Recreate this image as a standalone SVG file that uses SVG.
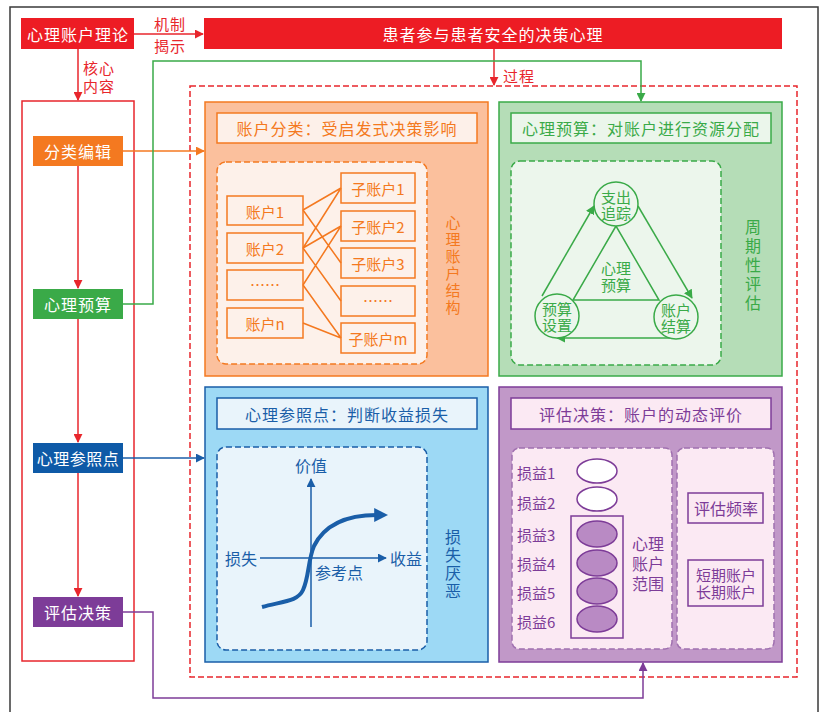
<svg xmlns="http://www.w3.org/2000/svg" width="822" height="712" viewBox="0 0 822 712">
<defs>
<style>
text{font-family:"Noto Sans CJK SC","Noto Sans",sans-serif;dominant-baseline:central}
.wt{fill:#fff;font-size:16px;letter-spacing:1px;text-anchor:middle}
.rl{fill:#e8262c;font-size:15px;text-anchor:middle;letter-spacing:1px}
.ttl{font-size:16px;letter-spacing:1px;text-anchor:middle}
.vt{writing-mode:vertical-rl;text-anchor:middle}
.dash{stroke-dasharray:6 3;stroke-width:1.5}
.or{fill:#f47920}.gr{fill:#3aaa48}.bl{fill:#1a5ea8}.pu{fill:#7d3c98}
</style>
<marker id="ar" viewBox="0 0 10 10" refX="9" refY="5" markerWidth="9" markerHeight="9" markerUnits="userSpaceOnUse" orient="auto"><path d="M0,0L10,5L0,10z" fill="#e8262c"/></marker>
<marker id="ao" viewBox="0 0 10 10" refX="9" refY="5" markerWidth="9" markerHeight="9" markerUnits="userSpaceOnUse" orient="auto"><path d="M0,0L10,5L0,10z" fill="#f47920"/></marker>
<marker id="ag" viewBox="0 0 10 10" refX="9" refY="5" markerWidth="9" markerHeight="9" markerUnits="userSpaceOnUse" orient="auto"><path d="M0,0L10,5L0,10z" fill="#3aaa48"/></marker>
<marker id="ab" viewBox="0 0 10 10" refX="9" refY="5" markerWidth="9" markerHeight="9" markerUnits="userSpaceOnUse" orient="auto"><path d="M0,0L10,5L0,10z" fill="#1a5ea8"/></marker>
<marker id="ab2" viewBox="0 0 10 10" refX="2" refY="5" markerWidth="14" markerHeight="14" markerUnits="userSpaceOnUse" orient="auto"><path d="M0,0L10,5L0,10z" fill="#1a5ea8"/></marker>
<marker id="ap" viewBox="0 0 10 10" refX="9" refY="5" markerWidth="9" markerHeight="9" markerUnits="userSpaceOnUse" orient="auto"><path d="M0,0L10,5L0,10z" fill="#7d3c98"/></marker>
</defs>
<rect width="822" height="712" fill="#fff"/>
<rect x="10" y="7" width="808" height="720" fill="none" stroke="#3a3a3a" stroke-width="1.5"/>

<!-- frames -->
<rect x="22" y="101" width="112" height="560" fill="none" stroke="#e8262c" stroke-width="1.5"/>
<rect x="190" y="86" width="607" height="591" fill="none" stroke="#e8262c" class="dash"/>

<g id="connectors" fill="none" stroke-width="1.5">
<path d="M134,34H203" stroke="#e8262c" marker-end="url(#ar)"/>
<path d="M78,49V100" stroke="#e8262c" marker-end="url(#ar)"/>
<path d="M78,166V288" stroke="#e8262c" marker-end="url(#ar)"/>
<path d="M78,319V442" stroke="#e8262c" marker-end="url(#ar)"/>
<path d="M78,473V596" stroke="#e8262c" marker-end="url(#ar)"/>
<path d="M494,49V85" stroke="#e8262c" marker-end="url(#ar)"/>
<path d="M123,151H204" stroke="#f47920" marker-end="url(#ao)"/>
<path d="M123,304H153V61H641V101" stroke="#3aaa48" marker-end="url(#ag)"/>
<path d="M123,458H204" stroke="#1a5ea8" marker-end="url(#ab)"/>
<path d="M123,612H153V698H643V663" stroke="#7d3c98" marker-end="url(#ap)"/>
</g>
<text class="rl"><tspan x="170" y="23">机制</tspan><tspan x="170" y="45">揭示</tspan></text>
<text class="rl"><tspan x="99" y="67">核心</tspan><tspan x="99" y="85">内容</tspan></text>
<text class="rl" x="519" y="75">过程</text>

<g id="theory"><rect x="21" y="18" width="113" height="31" fill="#ed1c24"/><text class="wt" x="78" y="34">心理账户理论</text></g>
<g id="topic"><rect x="204" y="18" width="578" height="31" fill="#ed1c24"/><text class="wt" x="493" y="34">患者参与患者安全的决策心理</text></g>

<g id="n-fenlei"><rect x="33" y="136" width="90" height="30" fill="#f47920"/><text class="wt" x="78" y="151">分类编辑</text></g>
<g id="n-yusuan"><rect x="33" y="289" width="90" height="30" fill="#3aaa48"/><text class="wt" x="78" y="304">心理预算</text></g>
<g id="n-cankao"><rect x="33" y="443" width="90" height="30" fill="#0e5aa7"/><text class="wt" x="78" y="458" style="letter-spacing:0.5px">心理参照点</text></g>
<g id="n-pinggu"><rect x="33" y="597" width="90" height="30" fill="#7d3c98"/><text class="wt" x="78" y="612">评估决策</text></g>

<!-- orange panel -->
<g id="p-orange">
<rect x="205" y="102" width="283" height="274" fill="#fbc09d" stroke="#f47920" stroke-width="1.5"/>
<rect x="217" y="113" width="260" height="30" fill="#fdf0e9" stroke="#f47920" stroke-width="1.5"/>
<text class="ttl or" x="347" y="128">账户分类：受启发式决策影响</text>
<rect x="217" y="162" width="210" height="202" rx="9" fill="#fdf1ea" stroke="#f47920" class="dash"/>
<g fill="#fdf1ea" stroke="#f47920" stroke-width="1.5">
<rect x="227" y="196" width="76" height="29"/><rect x="227" y="233" width="76" height="30"/><rect x="227" y="270" width="76" height="30"/><rect x="227" y="308" width="76" height="30"/>
<rect x="341" y="173" width="74" height="30"/><rect x="341" y="211" width="74" height="30"/><rect x="341" y="248" width="74" height="30"/><rect x="341" y="286" width="74" height="30"/><rect x="341" y="323" width="74" height="30"/>
</g>
<g stroke="#f47920" stroke-width="1.5" fill="none">
<path d="M303,210L341,188M303,210L341,263M303,248L341,188M303,248L341,226M303,248L341,301M303,285L341,226M303,285L341,338M303,323L341,338"/>
</g>
<g class="or" font-size="15" text-anchor="middle">
<text x="265" y="211">账户1</text><text x="265" y="248">账户2</text><text x="265" y="284">……</text><text x="265" y="323">账户n</text>
<text x="378" y="188">子账户1</text><text x="378" y="226">子账户2</text><text x="378" y="263">子账户3</text><text x="378" y="300">……</text><text x="378" y="338">子账户m</text>
</g>
<text class="or vt" font-size="15" letter-spacing="2" x="453" y="266">心理账户结构</text>
</g>

<!-- green panel -->
<g id="p-green">
<rect x="499" y="102" width="283" height="274" fill="#b5ddb7" stroke="#3aaa48" stroke-width="1.5"/>
<rect x="511" y="113" width="260" height="30" fill="#ebf6eb" stroke="#3aaa48" stroke-width="1.5"/>
<text class="ttl gr" x="641" y="128">心理预算：对账户进行资源分配</text>
<rect x="511" y="161" width="210" height="204" rx="9" fill="#ecf6ec" stroke="#3aaa48" class="dash"/>
<g stroke="#3aaa48" stroke-width="1.5" fill="none">
<path d="M616,226L573,300H659Z"/>
<path d="M542,296L594,206" marker-end="url(#ag)"/>
<path d="M638,206L692,298" marker-end="url(#ag)"/>
<path d="M670,338H557" marker-end="url(#ag)"/>
<circle cx="616" cy="204" r="22" fill="#ecf6ec"/>
<circle cx="557" cy="316" r="22" fill="#ecf6ec"/>
<circle cx="676" cy="317" r="22" fill="#ecf6ec"/>
</g>
<g class="gr" font-size="15" text-anchor="middle">
<text><tspan x="616" y="196">支出</tspan><tspan x="616" y="212">追踪</tspan></text>
<text><tspan x="557" y="308">预算</tspan><tspan x="557" y="324">设置</tspan></text>
<text><tspan x="676" y="309">账户</tspan><tspan x="676" y="325">结算</tspan></text>
<text><tspan x="616" y="267">心理</tspan><tspan x="616" y="284">预算</tspan></text>
</g>
<text class="gr vt" font-size="16" letter-spacing="3" x="753" y="266">周期性评估</text>
</g>

<!-- blue panel -->
<g id="p-blue">
<rect x="205" y="387" width="283" height="275" fill="#9dd9f5" stroke="#1a5ea8" stroke-width="1.5"/>
<rect x="217" y="398" width="260" height="31" fill="#e9f4fb" stroke="#1a5ea8" stroke-width="1.5"/>
<text class="ttl bl" x="347" y="414">心理参照点：判断收益损失</text>
<rect x="217" y="447" width="210" height="203" rx="9" fill="#e9f4fb" stroke="#1a5ea8" class="dash"/>
<g stroke="#1a5ea8" stroke-width="1.5" fill="none">
<path d="M311,627V479" marker-end="url(#ab)"/>
<path d="M260,558H386" marker-end="url(#ab)"/>
<path d="M262,607C285,601 298,601 303,590C309,577 308,560 314,546C326,522 350,515 377,515" stroke-width="4" marker-end="url(#ab2)"/>
</g>
<g class="bl" font-size="16" text-anchor="middle">
<text x="311" y="465">价值</text><text x="241" y="558">损失</text><text x="406" y="558">收益</text><text x="339" y="572">参考点</text>
</g>
<text class="bl vt" font-size="16" letter-spacing="2" x="453" y="565">损失厌恶</text>
</g>

<!-- purple panel -->
<g id="p-purple">
<rect x="499" y="387" width="283" height="275" fill="#c198c8" stroke="#7d3c98" stroke-width="1.5"/>
<rect x="511" y="398" width="260" height="31" fill="#fbe9f3" stroke="#7d3c98" stroke-width="1.5"/>
<text class="ttl pu" x="641" y="414">评估决策：账户的动态评价</text>
<rect x="512" y="448" width="160" height="201" rx="7" fill="#fbe9f3" stroke="#a070b0" class="dash"/>
<rect x="677" y="448" width="97" height="201" rx="7" fill="#fbe9f3" stroke="#a070b0" class="dash"/>
<g stroke="#7d3c98" stroke-width="1.5">
<ellipse cx="597" cy="471" rx="20" ry="12" fill="#fff"/>
<ellipse cx="597" cy="499" rx="20" ry="12" fill="#fff"/>
<ellipse cx="597" cy="534" rx="20" ry="13" fill="#b98ac4"/>
<ellipse cx="597" cy="563" rx="20" ry="13" fill="#b98ac4"/>
<ellipse cx="597" cy="591" rx="20" ry="13" fill="#b98ac4"/>
<ellipse cx="597" cy="619" rx="20" ry="13" fill="#b98ac4"/>
<rect x="571" y="516" width="52" height="122" fill="none"/>
<rect x="688" y="493" width="75" height="30" fill="#fbe9f3"/>
<rect x="688" y="560" width="75" height="46" fill="#fbe9f3"/>
</g>
<g class="pu" font-size="15">
<text x="517" y="472">损益1</text><text x="517" y="502">损益2</text><text x="517" y="534">损益3</text><text x="517" y="563">损益4</text><text x="517" y="592">损益5</text><text x="517" y="621">损益6</text>
</g>
<g class="pu" font-size="16" text-anchor="middle">
<text><tspan x="648" y="543">心理</tspan><tspan x="648" y="563">账户</tspan><tspan x="648" y="583">范围</tspan></text>
<text x="726" y="508">评估频率</text>
</g>
<g class="pu" font-size="15" text-anchor="middle">
<text><tspan x="726" y="574">短期账户</tspan><tspan x="726" y="591">长期账户</tspan></text>
</g>
</g>
</svg>
